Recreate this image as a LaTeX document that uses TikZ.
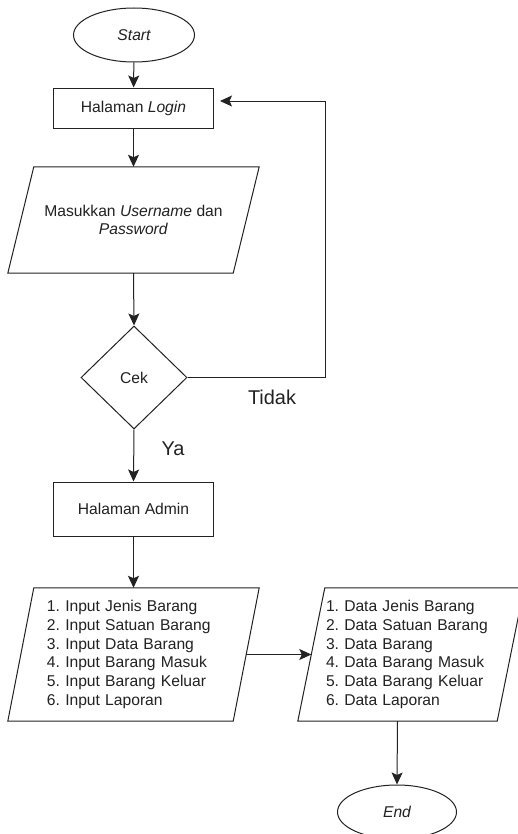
\documentclass[tikz,border=0pt]{standalone}
\usepackage{fontspec}
\setmainfont{Liberation Sans}
\usetikzlibrary{shapes.geometric,arrows.meta}
\definecolor{ink}{HTML}{222222}
\frenchspacing
\begin{document}
\begin{tikzpicture}[x=1bp,y=-1bp,
  every node/.style={font=\fontsize{15.7}{18.7}\selectfont, text=ink, inner sep=0pt},
  line/.style={draw=ink, line width=1bp},
  arr/.style={line, -{Stealth[length=12bp,width=11bp,inset=2.5bp]}},
  term/.style={line, ellipse, minimum width=#1, minimum height=54bp},
  procbox/.style={line, rectangle, minimum width=159bp},
  decision/.style={line, diamond, minimum width=106bp, minimum height=103bp},
  iobox/.style={rectangle, draw=none},
  lbl/.style={font=\fontsize{20}{24}\selectfont}
]
\useasboundingbox (0,0) rectangle (518,834);
\fill[white] (0,0) rectangle (518,834);

\node[term=121bp] (start) at (134,35) {\itshape Start};
\node[procbox, minimum height=40bp] (login) at (133.5,108) {Halaman \textit{Login}};
\node[iobox, minimum width=225bp, minimum height=106bp, align=center] (input) at (133.5,220)
  {Masukkan \textit{Username} dan\\\textit{Password}};
\draw[line] ([xshift=13bp]input.north west) -- ([xshift=13bp]input.north east)
  -- ([xshift=-13bp]input.south east) -- ([xshift=-13bp]input.south west) -- cycle;
\node[decision] (cek) at (134,377.5) {Cek};
\node[procbox, minimum height=54bp] (admin) at (133.5,509) {Halaman Admin};
\node[iobox, minimum width=225bp, minimum height=133bp, text width=173bp, align=left] (menu) at (133.5,654.5)
  {1. Input Jenis Barang\\2. Input Satuan Barang\\3. Input Data Barang\\4. Input Barang Masuk\\5. Input Barang Keluar\\6. Input Laporan};
\draw[line] ([xshift=13bp]menu.north west) -- ([xshift=13bp]menu.north east)
  -- ([xshift=-13bp]menu.south east) -- ([xshift=-13bp]menu.south west) -- cycle;
\node[iobox, minimum width=199bp, minimum height=133bp, text width=170bp, align=left] (data) at (411,654.5)
  {1. Data Jenis Barang\\2. Data Satuan Barang\\3. Data Barang\\4. Data Barang Masuk\\5. Data Barang Keluar\\6. Data Laporan};
\draw[line] ([xshift=13.5bp]data.north west) -- ([xshift=13.5bp]data.north east)
  -- ([xshift=-13.5bp]data.south east) -- ([xshift=-13.5bp]data.south west) -- cycle;
\node[term=119bp] (end) at (397,812) {\itshape End};

\node[lbl] (tidak) at (272,397) {Tidak};
\node[lbl] (ya) at (173,449) {Ya};

\coordinate (loop) at (325,101);
\coordinate (loopin) at (220,101);

\draw[arr] (start) -- (login);
\draw[arr] (login) -- (input.north);
\draw[arr] (input.south) -- (cek.north);
\draw[arr] (cek.south) -- (admin.north);
\draw[arr] (admin) -- (menu.north);
\draw[arr] (menu.east) -- (data.west);
\draw[arr] ([xshift=-13.5bp]data.south) -- (end.north);
\draw[arr] (cek.east) -| (loop) -- (loopin);
\end{tikzpicture}
\end{document}
